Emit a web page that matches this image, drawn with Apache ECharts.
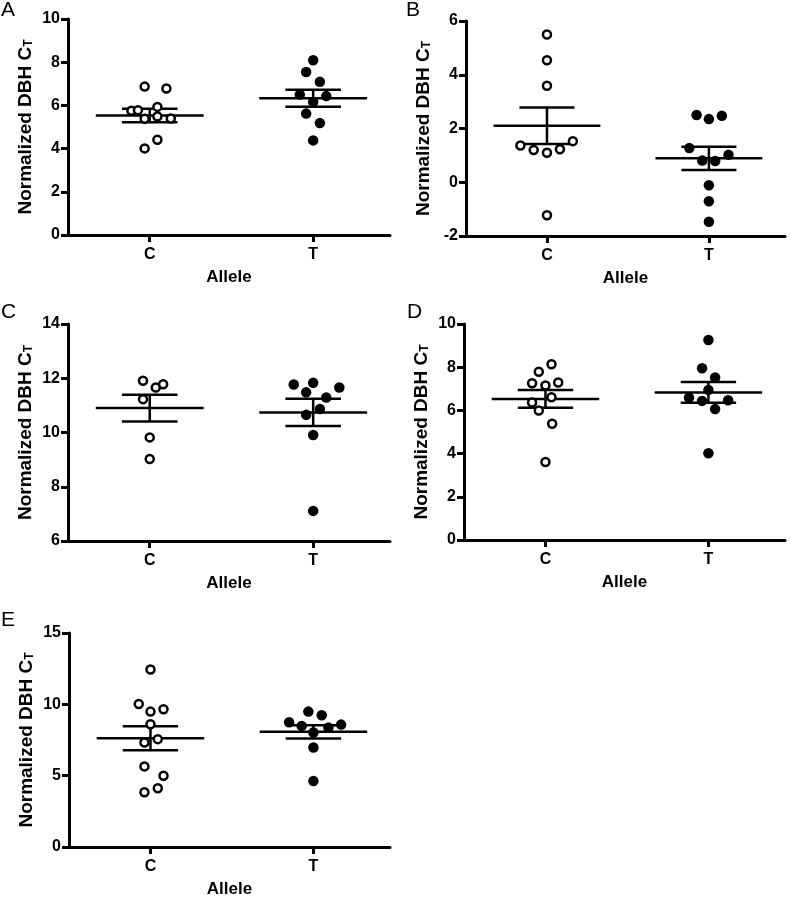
<!DOCTYPE html>
<html><head><meta charset="utf-8">
<script src="https://cdn.jsdelivr.net/npm/echarts@6/dist/echarts.min.js"></script>
<style>html,body{margin:0;padding:0;background:#fff}#c{width:791px;height:899px}</style>
</head><body><div id="c"></div>
<script>
const groups = ['C', 'T'];
const FONT = '"Liberation Sans", Arial, Helvetica, sans-serif';

// Panel A
const aC    = [6.87, 6.78, 5.75, 5.78, 5.93, 5.38, 5.49, 5.39, 4.41, 4.01];
const aCJit = [-0.031, 0.102, -0.112, -0.072, 0.047, -0.031, 0.047, 0.129, 0.047, -0.031];
const aT    = [8.09, 7.55, 7.09, 6.50, 6.43, 6.16, 5.62, 5.18, 4.38];
const aTJit = [0, -0.043, 0.041, -0.082, 0.080, 0, -0.043, 0.041, 0];
const aMean = [5.53, 6.33];
const aSem  = [0.31, 0.39];
const aTicks = [0, 10, 2];

// Panel B
const bC    = [5.50, 4.54, 3.59, 1.37, 1.20, 1.10, 1.23, 1.53, -1.23];
const bCJit = [0, 0, 0, -0.164, -0.082, 0, 0.080, 0.160, 0];
const bT    = [2.50, 2.35, 2.47, 1.27, 0.81, 0.79, 1.02, -0.11, -0.71, -1.47];
const bTJit = [-0.076, 0, 0.080, -0.121, -0.041, 0.039, 0.121, 0, 0, 0];
const bMean = [2.10, 0.89];
const bSem  = [0.68, 0.43];
const bTicks = [-2, 6, 2];

// Panel C
const cC    = [11.91, 11.66, 11.78, 11.23, 9.82, 9.02];
const cCJit = [-0.041, 0.037, 0.082, -0.041, 0, 0];
const cT    = [11.77, 11.83, 11.66, 11.48, 11.29, 10.87, 10.65, 9.91, 7.11];
const cTJit = [-0.119, 0, 0.160, -0.043, 0.080, 0.041, -0.043, 0, 0];
const cMean = [10.90, 10.74];
const cSem  = [0.49, 0.50];
const cTicks = [6, 14, 2];

// Panel D
const dC    = [8.14, 7.79, 7.26, 7.15, 7.29, 6.36, 6.61, 5.99, 5.38, 3.61];
const dCJit = [0.037, -0.041, -0.082, 0, 0.078, -0.082, 0.037, -0.041, 0.041, 0];
const dT    = [9.26, 7.95, 7.52, 6.95, 6.59, 6.44, 6.47, 6.06, 4.02];
const dTJit = [0, -0.039, 0.041, 0, -0.119, -0.039, 0.121, 0.041, 0];
const dMean = [6.53, 6.83];
const dSem  = [0.41, 0.48];
const dTicks = [0, 10, 2];

// Panel E
const eC    = [12.44, 10.02, 9.49, 9.65, 8.60, 7.33, 7.56, 5.65, 5.00, 3.84, 4.12];
const eCJit = [0, -0.072, 0, 0.080, 0, -0.037, 0.045, -0.037, 0.080, -0.037, 0.045];
const eT    = [9.49, 9.23, 8.74, 8.49, 8.37, 8.58, 8.02, 6.98, 4.63];
const eTJit = [-0.031, 0.051, -0.149, -0.072, 0.092, 0.170, 0, 0, 0];
const eMean = [7.63, 8.07];
const eSem  = [0.84, 0.47];
const eTicks = [0, 15, 5];

const panelLetters = ['A', 'B', 'C', 'D', 'E'];
const xTitle = 'Allele';
const yTitle = 'Normalized DBH C';
const yTitleSub = 'T';

const panels = [
  { c: aC, cj: aCJit, t: aT, tj: aTJit, mean: aMean, sem: aSem, ticks: aTicks },
  { c: bC, cj: bCJit, t: bT, tj: bTJit, mean: bMean, sem: bSem, ticks: bTicks },
  { c: cC, cj: cCJit, t: cT, tj: cTJit, mean: cMean, sem: cSem, ticks: cTicks },
  { c: dC, cj: dCJit, t: dT, tj: dTJit, mean: dMean, sem: dSem, ticks: dTicks },
  { c: eC, cj: eCJit, t: eT, tj: eTJit, mean: eMean, sem: eSem, ticks: eTicks }
];

// layout (pixels)
const grids = [
  { left: 68,  top: 19,  width: 322, height: 216 },
  { left: 466, top: 21,  width: 319, height: 215 },
  { left: 68,  top: 324, width: 322, height: 217 },
  { left: 464, top: 324, width: 321, height: 216 },
  { left: 69,  top: 633, width: 321, height: 215 }
];
const letterPos = [[1, 0], [406, 0], [1, 302], [407, 302], [1, 610]];

const MEAN_HALF = 0.33, SEM_HALF = 0.17;

const option = {
  animation: false,
  backgroundColor: '#fff',
  grid: grids.map(g => Object.assign({ containLabel: false }, g)),
  xAxis: [], yAxis: [], series: [],
  graphic: panelLetters.map((L, i) => ({
    type: 'text', x: letterPos[i][0], y: letterPos[i][1],
    style: { text: L, fontSize: 21, fontFamily: FONT, fill: '#000', verticalAlign: 'top', align: 'left' }
  }))
};

panels.forEach((p, i) => {
  option.xAxis.push({
    gridIndex: i, type: 'value', min: 0.5, max: 2.47,
    splitLine: { show: false },
    axisLine: { show: true, onZero: false, lineStyle: { color: '#000', width: 3 } },
    axisTick: { show: true, customValues: [1, 2], length: 7, lineStyle: { color: '#000', width: 3 } },
    axisLabel: { customValues: [1, 2], formatter: v => groups[Math.round(v) - 1] || '',
      color: '#000', fontWeight: 'bold', fontSize: 16, fontFamily: FONT, margin: 12 },
    name: xTitle, nameLocation: 'middle', nameGap: 34,
    nameTextStyle: { color: '#000', fontWeight: 'bold', fontSize: 17, fontFamily: FONT }
  });
  option.yAxis.push({
    gridIndex: i, type: 'value', min: p.ticks[0], max: p.ticks[1], interval: p.ticks[2],
    splitLine: { show: false },
    axisLine: { show: true, onZero: false, lineStyle: { color: '#000', width: 3 } },
    axisTick: { show: true, length: 7, lineStyle: { color: '#000', width: 3 } },
    axisLabel: { color: '#000', fontWeight: 'bold', fontSize: 16, fontFamily: FONT, margin: 8 },
    name: '{n|' + yTitle + '}{s|' + yTitleSub + '}', nameLocation: 'middle', nameGap: 33,
    nameTextStyle: {
      color: '#000', fontFamily: FONT,
      rich: {
        n: { fontSize: 19, fontWeight: 'bold', fontFamily: FONT, color: '#000' },
        s: { fontSize: 12, fontWeight: 'bold', fontFamily: FONT, color: '#000', verticalAlign: 'bottom' }
      }
    }
  });
  option.series.push({
    type: 'custom', xAxisIndex: i, yAxisIndex: i, z: 2, silent: true,
    data: [0, 1].map(k => [k + 1, p.mean[k], p.sem[k]]),
    renderItem: function (params, api) {
      const x = api.value(0), m = api.value(1), s = api.value(2);
      const seg = (x1, y1, x2, y2) => {
        const a = api.coord([x1, y1]), b = api.coord([x2, y2]);
        return { type: 'line', shape: { x1: a[0], y1: a[1], x2: b[0], y2: b[1] },
          style: { stroke: '#000', lineWidth: 2.5 } };
      };
      return { type: 'group', children: [
        seg(x - MEAN_HALF, m, x + MEAN_HALF, m),
        seg(x - SEM_HALF, m + s, x + SEM_HALF, m + s),
        seg(x - SEM_HALF, m - s, x + SEM_HALF, m - s),
        seg(x, m - s, x, m + s)
      ] };
    }
  });
  option.series.push({
    type: 'scatter', xAxisIndex: i, yAxisIndex: i, z: 3, symbol: 'circle', symbolSize: 8,
    itemStyle: { color: '#fff', borderColor: '#000', borderWidth: 2.5, opacity: 1 },
    data: p.c.map((v, k) => [1 + p.cj[k], v])
  });
  option.series.push({
    type: 'scatter', xAxisIndex: i, yAxisIndex: i, z: 3, symbol: 'circle', symbolSize: 10.5,
    itemStyle: { color: '#000', opacity: 1 },
    data: p.t.map((v, k) => [2 + p.tj[k], v])
  });
});

const chart = echarts.init(document.getElementById('c'), null, { renderer: 'canvas' });
chart.setOption(option);
</script>
</body></html>
